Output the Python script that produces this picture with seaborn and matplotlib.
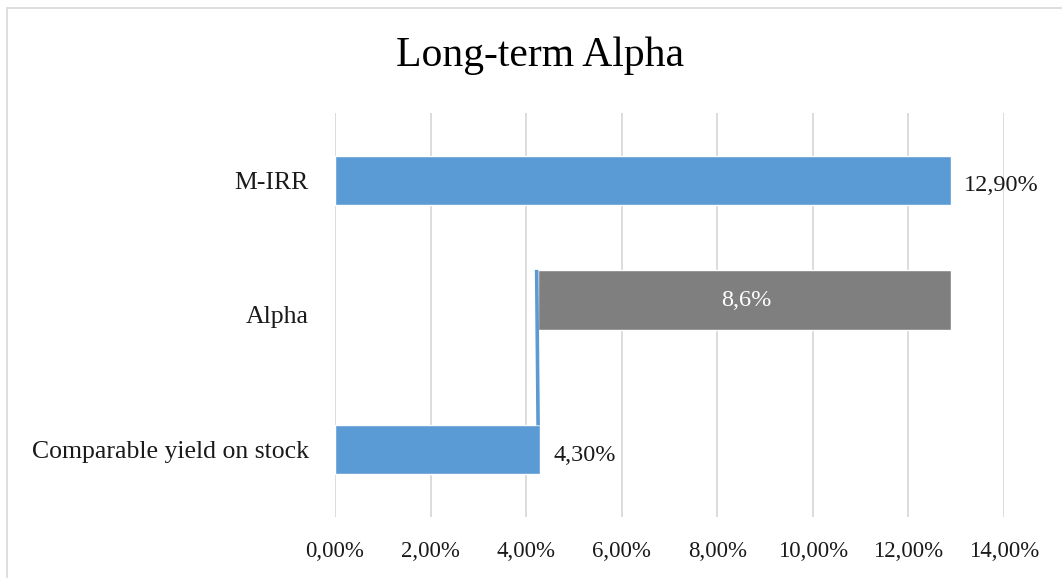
import numpy as np
import pandas as pd
import matplotlib
matplotlib.use("Agg")
import matplotlib.pyplot as plt
from matplotlib.patches import Rectangle
import seaborn as sns

# chart data
categories = ["M-IRR", "Alpha", "Comparable yield on stock"]
blue_values = [12.9, np.nan, 4.3]      # visible blue bars (%)
alpha_base = [np.nan, 4.3, np.nan]     # invisible base of the stacked bar
alpha_values = [np.nan, 8.6, np.nan]   # grey alpha segment
blue_labels = ["12,90%", "", "4,30%"]
alpha_labels = ["", "8,6%", ""]
connector_x = [4.22, 4.25]             # thin blue line between Alpha and Comparable
xticks = [0, 2, 4, 6, 8, 10, 12, 14]
xtick_labels = ["0,00%", "2,00%", "4,00%", "6,00%", "8,00%", "10,00%", "12,00%", "14,00%"]

df = pd.DataFrame({"cat": categories, "blue": blue_values,
                   "base": alpha_base, "alpha": alpha_values})

sns.set_style("white")
plt.rcParams["font.family"] = ["Liberation Serif", "DejaVu Serif"]

BLUE = "#5b9bd5"
GREY = "#7f7f7f"
GRID = "#d9d9d9"
TXT = "#1a1a1a"
bar_h = 0.36
grey_h = 0.45
grey_shift = -0.11
overlap = 0.06   # grey bar tucks against the connector line

fig = plt.figure(figsize=(10.62, 5.78), dpi=100)
ax = fig.add_axes([335 / 1062, 1 - 517 / 578, (1004 - 335) / 1062, (517 - 113) / 578])

sns.barplot(data=df, y="cat", x="blue", color=BLUE, width=bar_h,
            saturation=1, orient="h", ax=ax, zorder=3)
pos = np.arange(len(categories))
ax.barh(pos + grey_shift, df["alpha"] + overlap, left=df["base"] - overlap,
        height=grey_h, color=GREY, zorder=3)

# connector line from top of Alpha bar down to top of Comparable bar
ia, ic = categories.index("Alpha"), categories.index("Comparable yield on stock")
ax.plot(connector_x, [ia + grey_shift - grey_h / 2, ic - bar_h / 2],
        color=BLUE, lw=2.6, zorder=4, solid_capstyle="butt")

# data labels
for i in range(len(categories)):
    if blue_labels[i]:
        ax.text(blue_values[i] + 0.27, i + 0.04, blue_labels[i], va="center",
                ha="left", fontsize=17.5, color=TXT)
    if alpha_labels[i]:
        ax.text(alpha_base[i] + alpha_values[i] / 2, i + grey_shift, alpha_labels[i],
                va="center", ha="center", fontsize=17.5, color="white", zorder=5)

ax.set_xlim(0, 14)
ax.set_ylim(len(categories) - 0.5, -0.5)
ax.set_xticks(xticks)
ax.set_xticklabels(xtick_labels, fontsize=16.5, color=TXT)
ax.tick_params(axis="y", labelsize=18.5, labelcolor=TXT, pad=19, length=0)
ax.tick_params(axis="x", pad=17, length=0)
ax.set_xlabel("")
ax.set_ylabel("")
ax.xaxis.grid(True, color=GRID, lw=1.3, zorder=0)
ax.set_axisbelow(True)
for s in ax.spines.values():
    s.set_visible(False)

fig.text(540 / 1062, 1 - 56 / 578, "Long-term Alpha", ha="center", va="center",
         fontsize=30, color="black")

# chart area border
fig.patches.append(Rectangle((7 / 1062, -0.1), 1.2, 1 - 8 / 578 + 0.1,
                             transform=fig.transFigure, fill=False,
                             edgecolor=GRID, lw=1.2))

fig.savefig("out.png", dpi=100, facecolor="white")
